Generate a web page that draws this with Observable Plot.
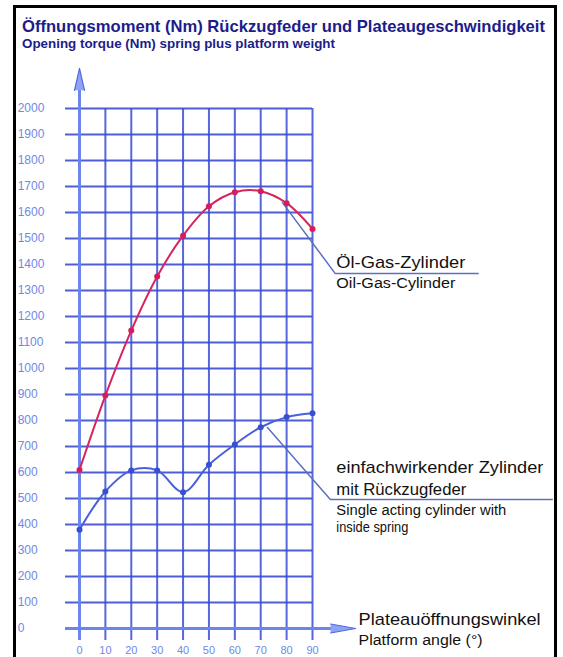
<!DOCTYPE html>
<html><head><meta charset="utf-8">
<script src="https://cdn.jsdelivr.net/npm/d3@7"></script>
<script src="https://cdn.jsdelivr.net/npm/@observablehq/plot@0.6"></script>
<style>
html,body{margin:0;padding:0;background:#fff;}
#wrap{position:relative;width:563px;height:657px;overflow:hidden;font-family:"Liberation Sans",Arial,sans-serif;}
#frame{position:absolute;left:13px;top:5px;width:544px;height:720px;border:3px solid #000;box-sizing:border-box;}
#chart{position:absolute;left:0;top:0;}
#title{position:absolute;left:0;top:0;}
</style></head><body>
<div id="wrap"><div id="frame"></div><div id="chart"></div><svg id="title" width="563" height="60"></svg></div>
<script>
// ---- data ----
const titleDe = "Öffnungsmoment (Nm) Rückzugfeder und Plateaugeschwindigkeit";
const titleEn = "Opening torque (Nm) spring plus platform weight";
const angles = [0, 10, 20, 30, 40, 50, 60, 70, 80, 90];
const oilGas = [610, 896, 1146, 1354, 1511, 1624, 1678, 1682, 1636, 1537];
const singleActing = [380, 527, 608, 608, 524, 630, 708, 774, 813, 828];
const xTickLabels = ["0", "10", "20", "30", "40", "50", "60", "70", "80", "90"];
const yTickValues = [0, 100, 200, 300, 400, 500, 600, 700, 800, 900, 1000, 1100, 1200, 1300, 1400, 1500, 1600, 1700, 1800, 1900, 2000];
const yTickLabels = ["0", "100", "200", "300", "400", "500", "600", "700", "800", "900", "1000", "1100", "1200", "1300", "1400", "1500", "1600", "1700", "1800", "1900", "2000"];
const leaderOil = [{x: 78.4, y: 1638}, {x: 98.8, y: 1365}, {x: 154, y: 1365}];
const leaderSingle = [{x: 72.6, y: 773}, {x: 96.9, y: 496}, {x: 182.6, y: 496}];
const labelsDe = [
  {text: "Öl-Gas-Zylinder", x: 99.2, y: 1385},
  {text: "einfachwirkender Zylinder", x: 99.2, y: 600},
  {text: "mit Rückzugfeder", x: 99.2, y: 515},
  {text: "Plateauöffnungswinkel", x: 107.8, y: 15}
];
const labelsEn = [
  {text: "Oil-Gas-Cylinder", x: 99.2, y: 1308},
  {text: "Single acting cylinder with", x: 99.2, y: 438},
  {text: "inside spring", x: 99.2, y: 373},
  {text: "Platform angle (°)", x: 107.8, y: -65}
];

// ---- styles ----
const textWidths = {
  "Öl-Gas-Zylinder": 129, "Oil-Gas-Cylinder": 119,
  "einfachwirkender Zylinder": 207, "mit Rückzugfeder": 130,
  "Single acting cylinder with": 170, "inside spring": 72,
  "Plateauöffnungswinkel": 182, "Platform angle (°)": 124
};
const gridColor = "#3a4bd2";
const axisColor = "#6a86ec";
const tickColor = "#7088e6";
const gridLeft = -5.4, gridBottom = -46;

const ogData = angles.map((a, i) => ({x: a, y: oilGas[i]}));
const saData = angles.map((a, i) => ({x: a, y: singleActing[i]}));
const yTicks = yTickValues.map((v, i) => ({v, label: yTickLabels[i]}));
const xTicks = angles.map((a, i) => ({a, label: xTickLabels[i]}));

const plot = Plot.plot({
  width: 563, height: 657,
  marginLeft: 79, marginRight: 251, marginTop: 108, marginBottom: 29,
  x: {domain: [0, 90], axis: null},
  y: {domain: [0, 2000], axis: null},
  style: {background: "transparent", overflow: "visible", fontFamily: "Liberation Sans, Arial, sans-serif"},
  marks: [
    Plot.ruleY(yTickValues, {x1: gridLeft, x2: 90, stroke: gridColor, strokeWidth: 2, strokeOpacity: 0.9}),
    Plot.ruleX(angles, {y1: gridBottom, y2: 2000, stroke: gridColor, strokeWidth: 2, strokeOpacity: 0.85}),
    Plot.ruleX([0], {y1: gridBottom, y2: 2075, stroke: axisColor, strokeWidth: 3}),
    Plot.ruleY([0], {x1: gridLeft, x2: 99, stroke: axisColor, strokeWidth: 3}),
    Plot.vector([{x: 0, y: 2070}], {x: "x", y: "y", shape: "spike", length: 22, r: 5, anchor: "start", rotate: 0, fill: "#8ea3f2", stroke: "#4f6ae0", strokeWidth: 1.2}),
    Plot.vector([{x: 97, y: 0}], {x: "x", y: "y", shape: "spike", length: 25, r: 4.5, anchor: "start", rotate: 90, fill: "#8ea3f2", stroke: "#4f6ae0", strokeWidth: 1.2}),
    Plot.line(leaderOil, {x: "x", y: "y", stroke: "#5b6fc4", strokeWidth: 1.5}),
    Plot.line(leaderSingle, {x: "x", y: "y", stroke: "#5b6fc4", strokeWidth: 1.5}),
    Plot.line(saData, {x: "x", y: "y", curve: "catmull-rom", stroke: "#4a60dc", strokeWidth: 2}),
    Plot.dot(saData, {x: "x", y: "y", r: 3, fill: "#3650d0"}),
    Plot.line(ogData, {x: "x", y: "y", curve: "catmull-rom", stroke: "#d6245e", strokeWidth: 2}),
    Plot.dot(ogData, {x: "x", y: "y", r: 3, fill: "#d81b5a"}),
    Plot.text(yTicks, {x: -23.9, y: "v", text: "label", textAnchor: "start", lineAnchor: "middle", fill: tickColor, fontSize: 12}),
    Plot.text(xTicks, {x: "a", y: -83, text: "label", textAnchor: "middle", lineAnchor: "middle", fill: tickColor, fontSize: 11}),
    Plot.text(labelsDe, {x: "x", y: "y", text: "text", textAnchor: "start", lineAnchor: "bottom", fill: "#111", fontSize: 17}),
    Plot.text(labelsEn, {x: "x", y: "y", text: "text", textAnchor: "start", lineAnchor: "bottom", fill: "#111", fontSize: 14})
  ]
});
d3.select(plot).selectAll("text").each(function() {
  const w = textWidths[this.textContent];
  if (w) { this.setAttribute("textLength", w); this.setAttribute("lengthAdjust", "spacingAndGlyphs"); }
});
document.getElementById("chart").appendChild(plot);

const t = d3.select("#title");
t.append("text").attr("x", 22).attr("y", 32).attr("font-size", 17).attr("font-weight", "bold")
  .attr("fill", "#1c1c8a").attr("textLength", 523).attr("lengthAdjust", "spacingAndGlyphs")
  .style("font-family", "Liberation Sans, Arial, sans-serif").text(titleDe);
t.append("text").attr("x", 22).attr("y", 48).attr("font-size", 13).attr("font-weight", "bold")
  .attr("fill", "#1c1c8a").attr("textLength", 313).attr("lengthAdjust", "spacingAndGlyphs")
  .style("font-family", "Liberation Sans, Arial, sans-serif").text(titleEn);
</script></body></html>
